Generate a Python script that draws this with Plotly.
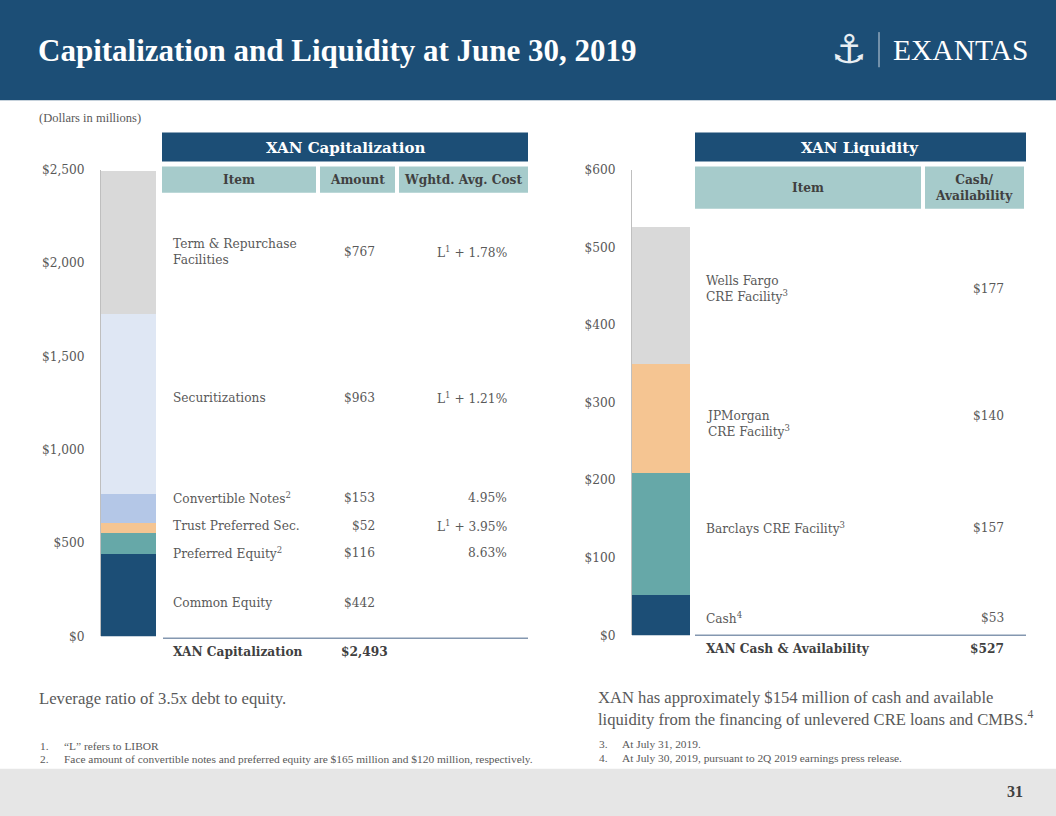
import plotly.graph_objects as go

W, H = 1056, 816
H_LAYOUT = 833  # page is photographed ~2% squashed vertically; paper fractions stay per 816 px

# ---------------- data ----------------
cap_items = ["Common Equity", "Preferred Equity<sup>2</sup>", "Trust Preferred Sec.",
             "Convertible Notes<sup>2</sup>", "Securitizations", "Term & Repurchase<br>Facilities"]
cap_values = [442, 116, 52, 153, 963, 767]
cap_costs = ["", "8.63%", "L<sup>1</sup> + 3.95%", "4.95%", "L<sup>1</sup> + 1.21%", "L<sup>1</sup> + 1.78%"]
cap_ticks = [0, 500, 1000, 1500, 2000, 2500]

liq_items = ["Cash<sup>4</sup>", "Barclays CRE Facility<sup>3</sup>", "JPMorgan<br>CRE Facility<sup>3</sup>",
             "Wells Fargo<br>CRE Facility<sup>3</sup>"]
liq_values = [53, 157, 140, 177]
liq_ticks = [0, 100, 200, 300, 400, 500, 600]

cap_colors = ["#1c4e76", "#66a8a8", "#f5c592", "#b4c7e7", "#dfe7f4", "#d9d9d9"]
liq_colors = ["#1c4e76", "#66a8a8", "#f5c592", "#d9d9d9"]

# layout constants (pixel rows of the tables)
cap_row_y = [602, 552, 525, 497, 398, 252]
liq_row_y = [617, 527, 423, 289]
liq_amt_y = [617, 527, 415, 289]

BLUE = "#1c4e76"
TEAL_HDR = "#a6cbcb"
TXT = "#595959"
DARK = "#404040"
SERIF = "DejaVu Serif"
TIMES = "Liberation Serif"
FS = 12.2


def px(x):
    return x / W


def py(y):
    return 1 - y / H


fig = go.Figure()

for name, v, c in zip(cap_items, cap_values, cap_colors):
    fig.add_trace(go.Bar(x=[""], y=[v], name=name, marker=dict(color=c, line=dict(width=0)),
                         xaxis="x", yaxis="y", showlegend=False))
for name, v, c in zip(liq_items, liq_values, liq_colors):
    fig.add_trace(go.Bar(x=[""], y=[v], name=name, marker=dict(color=c, line=dict(width=0)),
                         xaxis="x2", yaxis="y2", showlegend=False))

shapes = []
annots = []


def rect(x0, y0, x1, y1, color):
    shapes.append(dict(type="rect", xref="paper", yref="paper", x0=px(x0), x1=px(x1),
                       y0=py(y1), y1=py(y0), fillcolor=color, line=dict(width=0), layer="below"))


def line(x0, y0, x1, y1, color, width=1.5):
    shapes.append(dict(type="line", xref="paper", yref="paper", x0=px(x0), x1=px(x1),
                       y0=py(y0), y1=py(y1), line=dict(color=color, width=width)))


def text(t, x, y, size, color=TXT, family=SERIF, xanchor="left", align="left"):
    annots.append(dict(text=t, x=px(x), y=py(y), xref="paper", yref="paper", showarrow=False,
                       xanchor=xanchor, yanchor="middle", align=align,
                       font=dict(size=size, color=color, family=family)))


# header & footer bands
rect(0, -2, W, 101, BLUE)
rect(0, 767, W, H + 2, "#e6e6e6")
text("<b>Capitalization and Liquidity at June 30, 2019</b>", 36, 51, 31, "white", TIMES)
text("⚓", 849, 50, 40, "#e8eef3", "DejaVu Sans", xanchor="center", align="center")
line(879, 33, 879, 68, "#c8d3de", 1)
text("EXANTAS", 891, 51, 29.5, "white", TIMES)
text("<b>31</b>", 1025, 790, 16, "#404040", TIMES, xanchor="right", align="right")

text("(Dollars in millions)", 37, 119, 12.5, TXT, TIMES)

# ---- left table ----
rect(162, 133, 528, 162, BLUE)
text("<b>XAN Capitalization</b>", 345, 148, 15, "white", SERIF, xanchor="center", align="center")
rect(162, 167, 316, 193, TEAL_HDR)
rect(320, 167, 395, 193, TEAL_HDR)
rect(399, 167, 528, 193, TEAL_HDR)
text("<b>Item</b>", 239, 180, FS, DARK, SERIF, xanchor="center", align="center")
text("<b>Amount</b>", 357, 180, FS, DARK, SERIF, xanchor="center", align="center")
text("<b>Wghtd. Avg. Cost</b>", 463, 180, FS, DARK, SERIF, xanchor="center", align="center")
for item, v, cost, y in zip(cap_items, cap_values, cap_costs, cap_row_y):
    text(item, 171, y, FS)
    text(f"${v:,}", 377, y, FS, xanchor="right", align="right")
    if cost:
        text(cost, 509, y, FS, xanchor="right", align="right")
line(163, 637, 528, 637, "#8497b0", 1.5)
text("<b>XAN Capitalization</b>", 171, 651, FS, DARK)
text(f"<b>${sum(cap_values):,}</b>", 390, 651, FS, DARK, xanchor="right", align="right")

# ---- right table ----
rect(695, 133, 1026, 162, BLUE)
text("<b>XAN Liquidity</b>", 860, 148, 15, "white", SERIF, xanchor="center", align="center")
rect(695, 167, 921, 209, TEAL_HDR)
rect(925, 167, 1024, 209, TEAL_HDR)
text("<b>Item</b>", 808, 188, FS, DARK, SERIF, xanchor="center", align="center")
text("<b>Cash/<br>Availability</b>", 974, 188, FS, DARK, SERIF, xanchor="center", align="center")
for item, v, y, ya in zip(liq_items, liq_values, liq_row_y, liq_amt_y):
    text(item, 704, y, FS)
    text(f"${v:,}", 1006, ya, FS, xanchor="right", align="right")
line(695, 634, 1026, 634, "#8497b0", 1.5)
text("<b>XAN Cash & Availability</b>", 704, 648, FS, DARK)
text(f"<b>${sum(liq_values):,}</b>", 1006, 648, FS, DARK, xanchor="right", align="right")

# ---- bottom texts ----
text("Leverage ratio of 3.5x debt to equity.", 37, 697, 16.7, TXT, TIMES)
text("1.", 38, 744, 11.4, TXT, TIMES)
text("“L” refers to LIBOR", 62, 744, 11.4, TXT, TIMES)
text("2.", 38, 757, 11.4, TXT, TIMES)
text("Face amount of convertible notes and preferred equity are $165 million and $120 million, respectively.",
     62, 757, 11.4, TXT, TIMES)
text("XAN has approximately $154 million of cash and available<br>"
     "liquidity from the financing of unlevered CRE loans and CMBS.<sup>4</sup>", 596, 707, 16.6, TXT, TIMES)
text("3.", 597, 742, 11.4, TXT, TIMES)
text("At July 31, 2019.", 620, 742, 11.4, TXT, TIMES)
text("4.", 597, 756, 11.4, TXT, TIMES)
text("At July 30, 2019, pursuant to 2Q 2019 earnings press release.", 620, 756, 11.4, TXT, TIMES)

axis_common = dict(showgrid=False, zeroline=False, showline=True, linecolor="#bfbfbf", linewidth=1,
                   ticks="", tickmode="array", ticklabelstandoff=13,
                   tickfont=dict(family=SERIF, size=FS, color=TXT), fixedrange=True)

fig.update_layout(
    width=W, height=H_LAYOUT, margin=dict(l=0, r=0, t=0, b=0),
    paper_bgcolor="white", plot_bgcolor="rgba(0,0,0,0)",
    barmode="stack", bargap=0,
    xaxis=dict(domain=[px(101), px(156)], visible=False, fixedrange=True),
    yaxis=dict(domain=[py(635), py(170)], range=[0, 2500], tickvals=cap_ticks,
               ticktext=[f"${v:,}" for v in cap_ticks], anchor="x", **axis_common),
    xaxis2=dict(domain=[px(632), px(690)], visible=False, fixedrange=True),
    yaxis2=dict(domain=[py(634), py(170)], range=[0, 600], tickvals=liq_ticks,
                ticktext=[f"${v:,}" for v in liq_ticks], anchor="x2", **axis_common),
    shapes=shapes, annotations=annots,
)

post = (
    "var gd=document.getElementById('{plot_id}');"
    "document.documentElement.style.margin='0';document.documentElement.style.overflow='hidden';"
    "document.body.style.margin='0';document.body.style.padding='0';document.body.style.overflow='hidden';"
    "gd.style.position='absolute';gd.style.top='-8px';gd.style.left='0px';"
)
fig.write_html("out.html", config={"displayModeBar": False, "responsive": False}, post_script=post)
